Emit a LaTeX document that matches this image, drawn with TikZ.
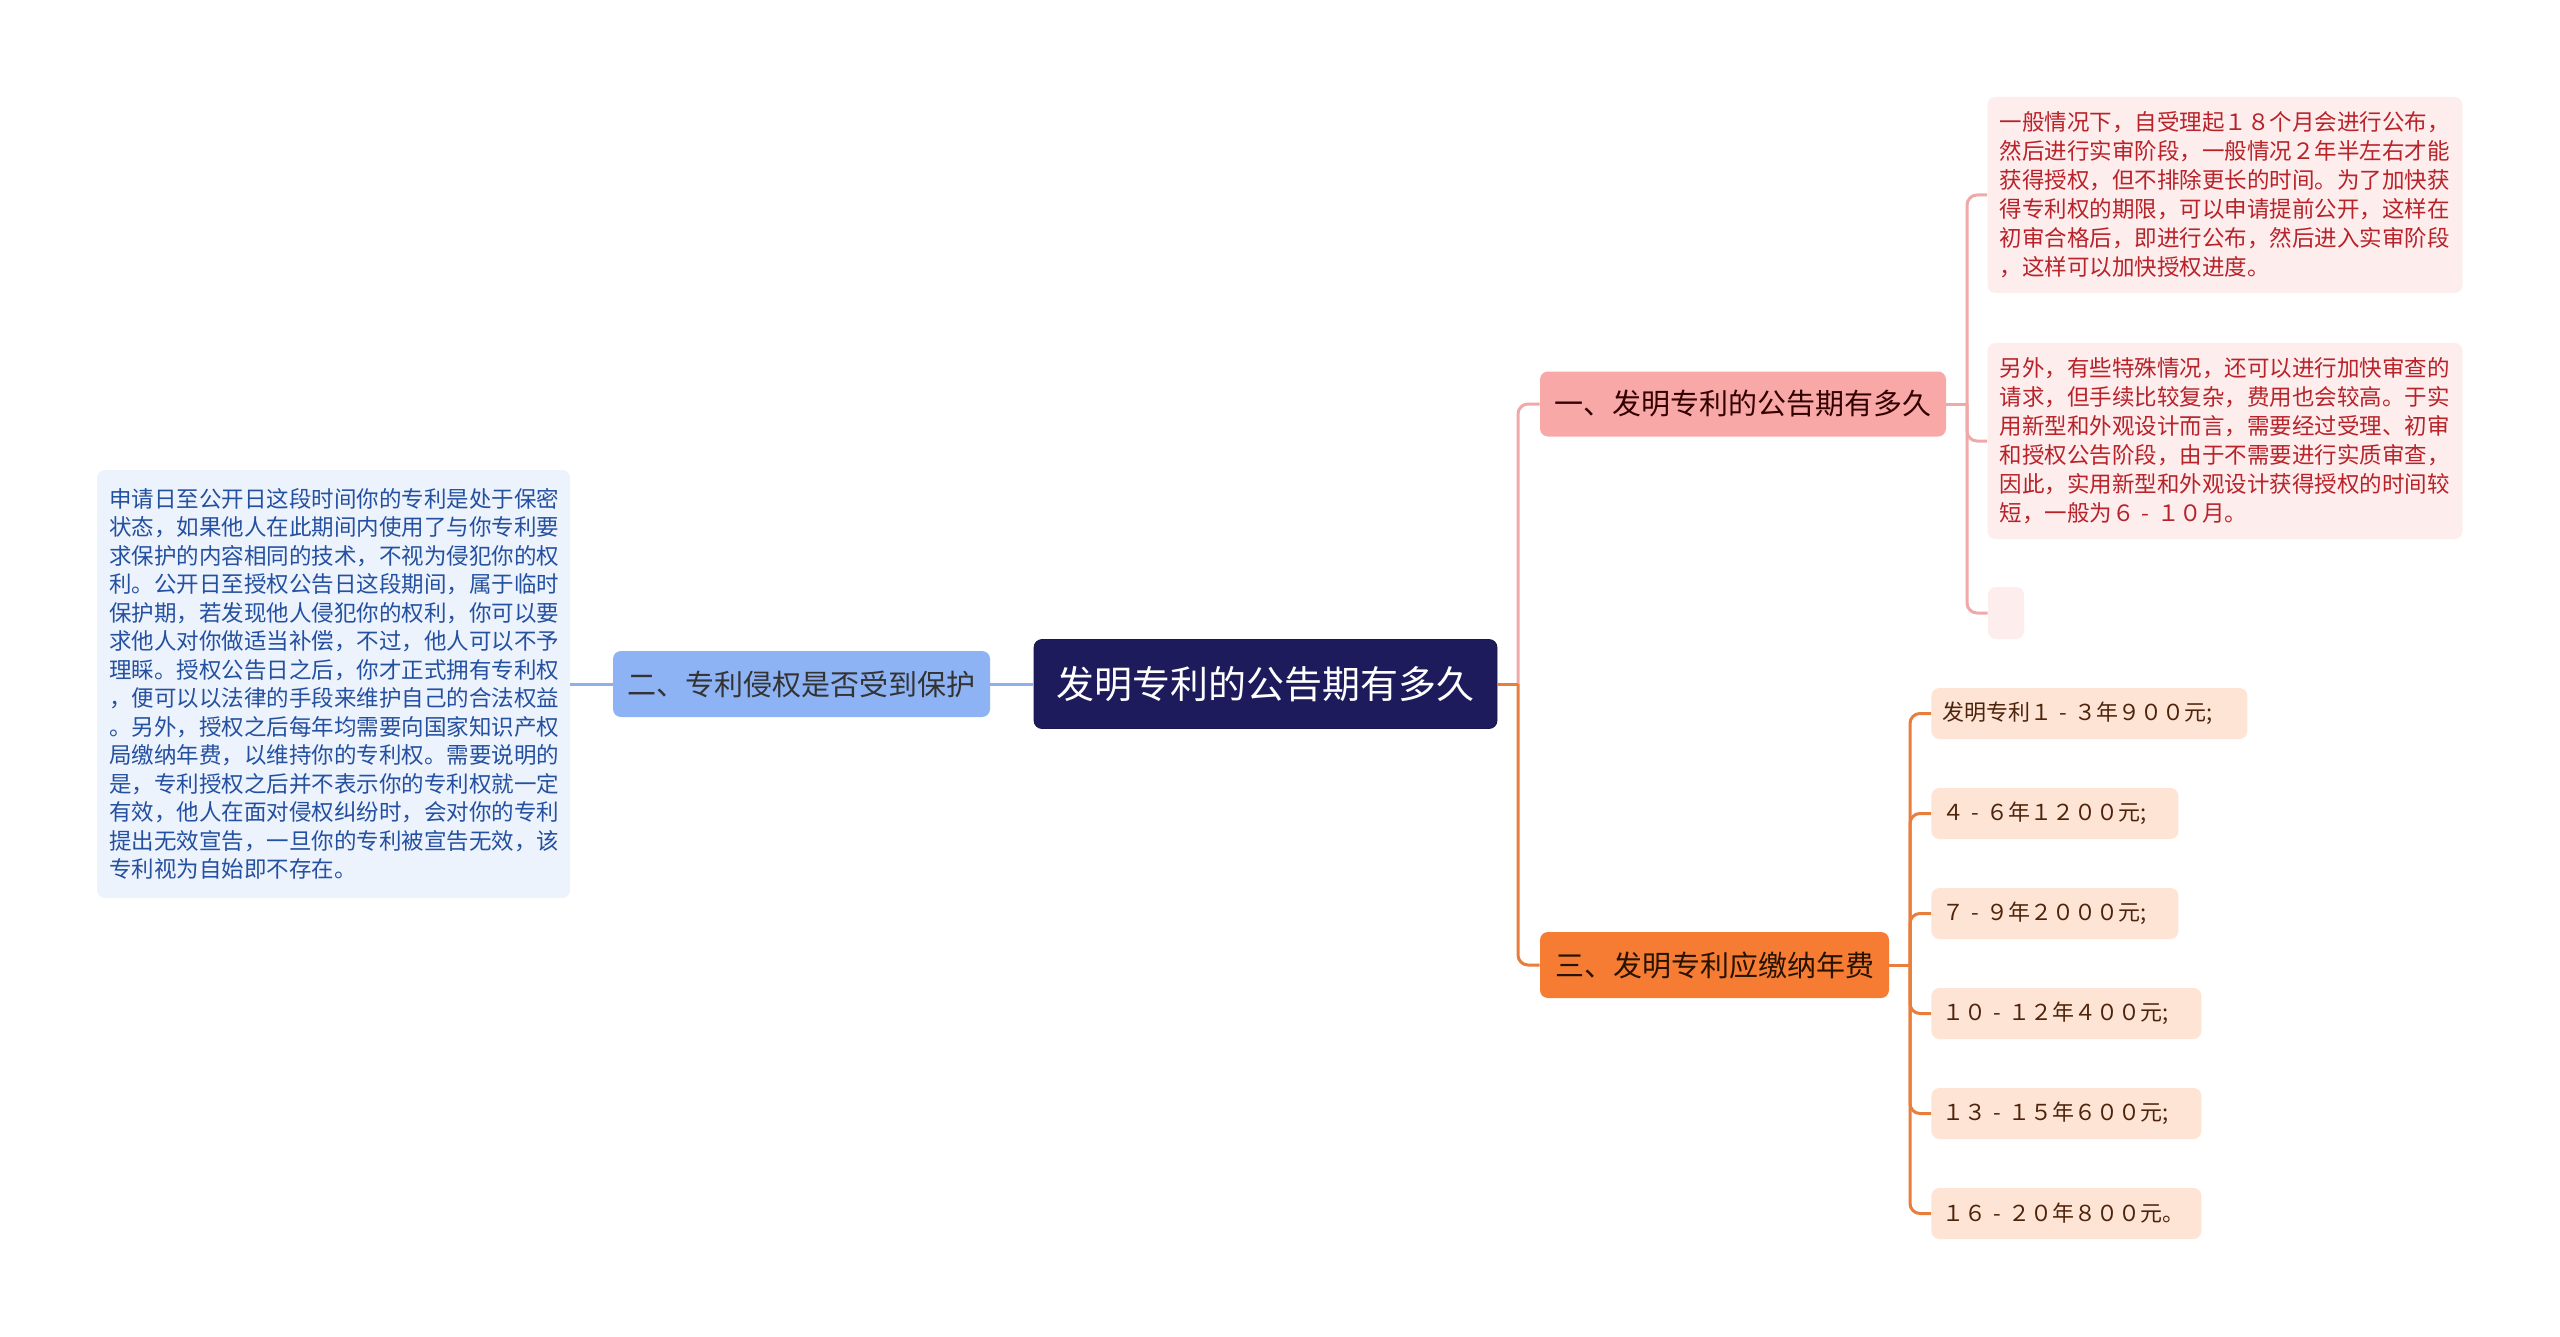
\documentclass[tikz,border=0pt]{standalone}
\usepackage{fontspec}
\setmainfont{Noto Sans CJK SC}
\usetikzlibrary{positioning}
\definecolor{navy}{HTML}{1E1B5C}
\definecolor{bluenode}{HTML}{8DB3F4}
\definecolor{blueline}{HTML}{8DB0EC}
\definecolor{bluebox}{HTML}{EDF3FD}
\definecolor{bluetext}{HTML}{2450A0}
\definecolor{pinknode}{HTML}{F8A9A7}
\definecolor{pinkline}{HTML}{F0A9A9}
\definecolor{pinkbox}{HTML}{FDEDED}
\definecolor{pinktext}{HTML}{B8232A}
\definecolor{orangenode}{HTML}{F67B33}
\definecolor{orangeline}{HTML}{E97D3C}
\definecolor{orangebox}{HTML}{FDE4D5}
\definecolor{orangetext}{HTML}{4E240C}
\newcommand{\fwdash}{\makebox[1em][c]{-}}
\tikzset{
  rootbox/.style={fill=navy, draw=navy!80!black, rounded corners=4pt, text=white,
    font=\fontsize{19pt}{23pt}\selectfont, minimum width=231.5pt, minimum height=44.5pt, inner sep=0pt},
  branchbox/.style={rounded corners=4pt, font=\fontsize{14.5pt}{17pt}\selectfont, inner sep=0pt},
  notebox/.style={rounded corners=4pt, font=\fontsize{11.25pt}{14.5pt}\selectfont, align=left,
    inner xsep=6pt, inner ysep=0pt},
  feebox/.style={rounded corners=4pt, fill=orangebox, text=orangetext, anchor=west,
    font=\fontsize{11pt}{13pt}\selectfont, align=left, inner xsep=5.5pt, inner ysep=0pt,
    minimum height=25.5pt},
  link/.style={line width=1.5pt},
  elbow/.style={line width=1.5pt, rounded corners=5pt},
}
\begin{document}
\begin{tikzpicture}[x=0.5pt, y=-0.5pt]
\useasboundingbox[fill=white] (0,0) rectangle (2560,1337);

% root
\node[rootbox] (c) at (1265.5,684) {发明专利的公告期有多久};

% left branch
\node[branchbox, fill=bluenode, text=black!80, minimum width=188.5pt, minimum height=33pt] (n2) at (801.5,684) {二、专利侵权是否受到保护};
\node[notebox, fill=bluebox, text=bluetext, text width=224.5pt, minimum height=214pt,
  font=\fontsize{11.25pt}{14.25pt}\selectfont] (lb) at (333.5,684) {申请日至公开日这段时间你的专利是处于保密\\状态，如果他人在此期间内使用了与你专利要\\求保护的内容相同的技术，不视为侵犯你的权\\利。公开日至授权公告日这段期间，属于临时\\保护期，若发现他人侵犯你的权利，你可以要\\求他人对你做适当补偿，不过，他人可以不予\\理睬。授权公告日之后，你才正式拥有专利权\\，便可以以法律的手段来维护自己的合法权益\\。另外，授权之后每年均需要向国家知识产权\\局缴纳年费，以维持你的专利权。需要说明的\\是，专利授权之后并不表示你的专利权就一定\\有效，他人在面对侵权纠纷时，会对你的专利\\提出无效宣告，一旦你的专利被宣告无效，该\\专利视为自始即不存在。};

% branch one
\node[branchbox, fill=pinknode, text=black!80!red, minimum width=203pt, minimum height=32.5pt] (n1) at (1743,404) {一、发明专利的公告期有多久};
\node[notebox, fill=pinkbox, text=pinktext, text width=225.5pt, minimum height=98pt] (b1) at (2225,195) {一般情况下，自受理起１８个月会进行公布，\\然后进行实审阶段，一般情况２年半左右才能\\获得授权，但不排除更长的时间。为了加快获\\得专利权的期限，可以申请提前公开，这样在\\初审合格后，即进行公布，然后进入实审阶段\\，这样可以加快授权进度。};
\node[notebox, fill=pinkbox, text=pinktext, text width=225.5pt, minimum height=98pt] (b2) at (2225,441) {另外，有些特殊情况，还可以进行加快审查的\\请求，但手续比较复杂，费用也会较高。于实\\用新型和外观设计而言，需要经过受理、初审\\和授权公告阶段，由于不需要进行实质审查，\\因此，实用新型和外观设计获得授权的时间较\\短，一般为６\fwdash １０月。};
\node[rounded corners=4pt, fill=pinkbox, minimum width=18pt, minimum height=26pt, inner sep=0pt] (b3) at (2006,613) {};

% branch three
\node[branchbox, fill=orangenode, text=black!85!orange, minimum width=174.5pt, minimum height=33pt] (n3) at (1714.5,965) {三、发明专利应缴纳年费};
\node[feebox, text width=147pt] (f1) at (1931,713.5) {发明专利１\fwdash ３年９００元;};
\node[feebox, text width=112.5pt] (f2) at (1931,813.5) {４\fwdash ６年１２００元;};
\node[feebox, text width=112.5pt] (f3) at (1931,913.5) {７\fwdash ９年２０００元;};
\node[feebox, text width=124pt] (f4) at (1931,1013.5) {１０\fwdash １２年４００元;};
\node[feebox, text width=124pt] (f5) at (1931,1113.5) {１３\fwdash １５年６００元;};
\node[feebox, text width=124pt] (f6) at (1931,1213.5) {１６\fwdash ２０年８００元。};

% junctions
\coordinate (jc) at (1518,684);
\coordinate (j1) at (1967,404);
\coordinate (j3) at (1910,965);

% connectors left
\draw[link, blueline] (c.west) -- (n2.east);
\draw[link, blueline] (n2.west) -- (lb.east);

% connectors right from root
\draw[link, pinkline] (c.east) -- (jc);
\draw[elbow, pinkline] (jc) |- (n1.west);
\draw[link, orangeline] (c.east) -- (jc);
\draw[elbow, orangeline] (jc) |- (n3.west);

% branch one children
\draw[link, pinkline] (n1.east) -- (j1);
\draw[elbow, pinkline] (j1) |- (b1.west);
\draw[elbow, pinkline] (j1) |- (b2.west);
\draw[elbow, pinkline] (j1) |- (b3.west);

% branch three children
\draw[link, orangeline] (n3.east) -- (j3);
\foreach \k in {f1,f2,f3,f4,f5,f6} {
  \draw[elbow, orangeline] (j3) |- (\k.west);
}
\end{tikzpicture}
\end{document}
